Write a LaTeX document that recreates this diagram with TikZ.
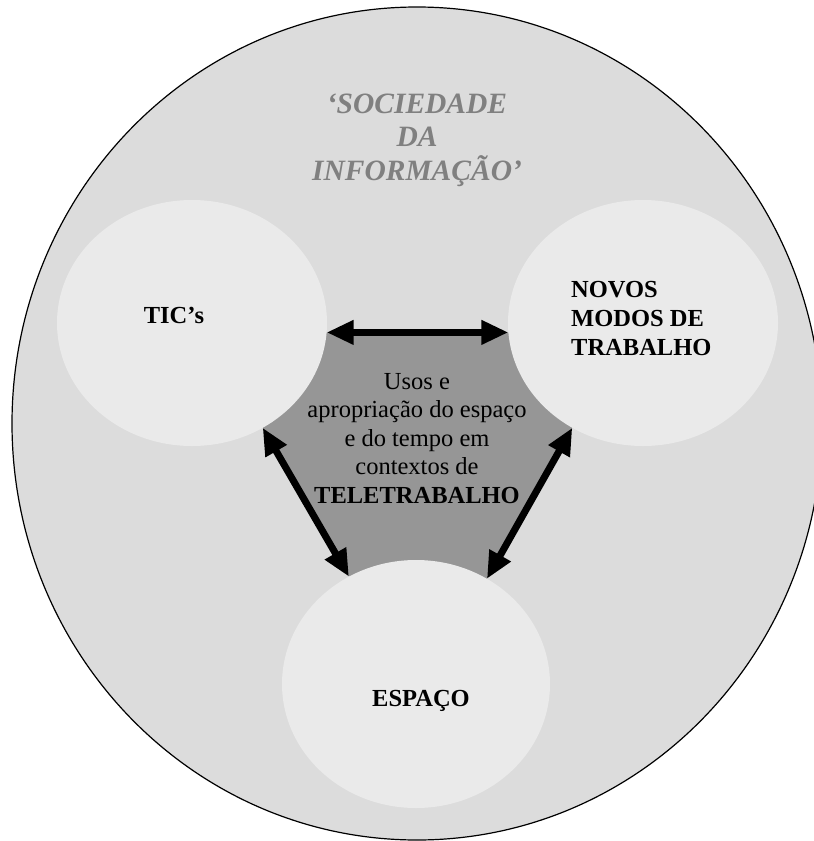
\documentclass[tikz,border=0pt]{standalone}
\usepackage{fontspec}
\setmainfont{Liberation Serif}
\usetikzlibrary{shapes.geometric}
\usetikzlibrary{arrows.meta}
\usetikzlibrary{backgrounds}

\definecolor{outergray}{HTML}{DCDCDC}
\definecolor{blobgray}{HTML}{EAEAEA}
\definecolor{coregray}{HTML}{969696}
\definecolor{titlegray}{HTML}{808080}

\tikzset{
  blob/.style={ellipse, fill=blobgray, minimum width=270pt, minimum height=246pt, inner sep=0pt, outer sep=0pt},
  link/.style={{Triangle[length=27pt,width=23pt]}-{Triangle[length=27pt,width=23pt]}, line width=7pt},
  lbl/.style={font=\bfseries\fontsize{24.5}{29}\selectfont, inner sep=0pt}
}

\begin{document}
\begin{tikzpicture}[x=1pt,y=-1pt]
\useasboundingbox (0,0) rectangle (814,841);

\node[blob] (tic) at (192,323) {};
\node[blob] (novos) at (643,323) {};
\node[blob, minimum width=268pt, minimum height=248pt] (espaco) at (416,684) {};

\begin{scope}[on background layer]
\draw[line width=1.2pt, fill=outergray] (417,423.5) ellipse [x radius=405pt, y radius=416.5pt];
\fill[coregray] (tic.-4) -- (novos.184) -- (novos.236) -- (espaco.56) -- (espaco.122) -- (tic.304) -- cycle;
\end{scope}

\draw[link] (tic.-4) -- (novos.184);
\draw[link] (tic.304) -- (espaco.122);
\draw[link] (novos.236) -- (espaco.56);

\node[lbl, anchor=base] (ticlbl) at (174,323) {TIC’s};
\node[lbl, anchor=base west, align=left] (novoslbl) at (571,355) {NOVOS\\MODOS DE\\TRABALHO};
\node[lbl, anchor=base] (espacolbl) at (421,706) {ESPAÇO};

\node[font=\fontsize{24.5}{28.5}\selectfont, align=center, anchor=base, inner sep=0pt] (core) at (417,503)
  {Usos e\\apropriação do espaço\\e do tempo em\\contextos de\\\textbf{TELETRABALHO}};
\node[font=\bfseries\itshape\fontsize{29.5}{33.5}\selectfont, text=titlegray, align=center, anchor=base, inner sep=0pt] (society) at (417,180)
  {‘SOCIEDADE\\DA\\INFORMAÇÃO’};
\end{tikzpicture}
\end{document}
